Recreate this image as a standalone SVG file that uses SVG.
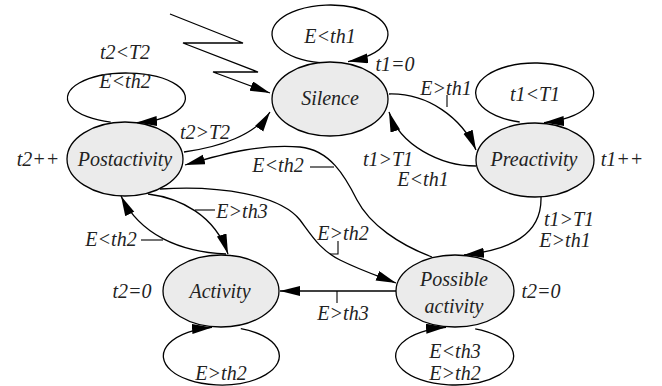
<svg xmlns="http://www.w3.org/2000/svg" width="662" height="386" viewBox="0 0 662 386">
<style>
.n{fill:#ebebeb;stroke:#000;stroke-width:1.3}
.e{fill:none;stroke:#000;stroke-width:1.3}
.l{fill:none;stroke:#000;stroke-width:1.1}
.t{font-family:'Liberation Serif','DejaVu Serif','Times New Roman',Times,serif;font-style:italic;font-size:20px;fill:#222;text-anchor:middle}
</style>
<defs>
<marker id="ah" markerUnits="userSpaceOnUse" markerWidth="21" markerHeight="11" refX="20" refY="5" orient="auto">
<path d="M0,0 L20,5 L0,10 z" fill="#000"/>
</marker>
</defs>
<rect width="662" height="386" fill="#fff"/>
<g id="nodes" class="t">
<g id="silence"><ellipse class="n" cx="330" cy="99" rx="58" ry="37"/><text x="330" y="105">Silence</text></g>
<g id="postactivity"><ellipse class="n" cx="125" cy="159" rx="58" ry="37"/><text x="125" y="166">Postactivity</text></g>
<g id="preactivity"><ellipse class="n" cx="535" cy="160" rx="59" ry="37"/><text x="534" y="166">Preactivity</text></g>
<g id="activity"><ellipse class="n" cx="221" cy="291" rx="58" ry="36"/><text x="220" y="298">Activity</text></g>
<g id="possible"><ellipse class="n" cx="455" cy="291" rx="59" ry="36"/><text x="454" y="286">Possible</text><text x="454" y="313">activity</text></g>
</g>
<g id="connectors">
<path class="e" marker-end="url(#ah)" d="M319.9,62.6 A58,29 0 1 1 348,61.6"/>
<path class="e" marker-end="url(#ah)" d="M110.7,122.1 A59,25 0 1 1 137,122.6"/>
<path class="e" marker-end="url(#ah)" d="M519.7,122 A59,30 0 1 1 544,122.6"/>
<path class="e" marker-end="url(#ah)" d="M240.8,328.7 A58,29 0 1 1 212,327.4"/>
<path class="e" marker-end="url(#ah)" d="M475.2,328.8 A59,29 0 1 1 446,327.3"/>
<polyline class="e" marker-end="url(#ah)" points="170,14 243,43 183,43 258,72 213,72 270,93"/>
<path class="e" marker-end="url(#ah)" d="M389,94 C428,93 462,118 476,150"/>
<path class="e" marker-end="url(#ah)" d="M476,166 C440,166 400,145 389,112"/>
<path class="e" marker-end="url(#ah)" d="M184,152 C220,147 255,135 270,112"/>
<path class="e" marker-end="url(#ah)" d="M432,257 C400,245 370,225 357,200 C345,176 330,150 300,147 C262,144 230,152 185,165"/>
<path class="e" marker-end="url(#ah)" d="M160,189 C220,185 280,195 300,220 C312,236 320,250 340,260 C360,270 378,276 396,283"/>
<path class="e" marker-end="url(#ah)" d="M148,194 C180,198 215,215 228,254"/>
<path class="e" marker-end="url(#ah)" d="M226,254 C180,252 140,235 121,196"/>
<path class="e" marker-end="url(#ah)" d="M541,197 C542,235 510,250 464,255"/>
<path class="e" marker-end="url(#ah)" d="M396,291 L280,291"/>
<path class="l" d="M447,95 L447,107"/>
<path class="l" d="M310,167 L334,167"/>
<path class="l" d="M338,241 L338,254 L330,254"/>
<path class="l" d="M195,210 L215,210"/>
<path class="l" d="M141,240 L163,240"/>
<path class="l" d="M337,291 L337,303"/>
</g>
<g id="labels" class="t">
<text x="330" y="43">E&lt;th1</text>
<text x="395" y="71">t1=0</text>
<text x="125" y="59">t2&lt;T2</text>
<text x="125" y="88">E&lt;th2</text>
<text x="535" y="101">t1&lt;T1</text>
<text x="38" y="166">t2++</text>
<text x="622" y="166">t1++</text>
<text x="205" y="139">t2&gt;T2</text>
<text x="446" y="95">E&gt;th1</text>
<text x="388" y="166">t1&gt;T1</text>
<text x="423" y="186">E&lt;th1</text>
<text x="278" y="172">E&lt;th2</text>
<text x="242" y="218">E&gt;th3</text>
<text x="111" y="246">E&lt;th2</text>
<text x="343" y="240">E&gt;th2</text>
<text x="343" y="320">E&gt;th3</text>
<text x="569" y="226">t1&gt;T1</text>
<text x="565" y="247">E&gt;th1</text>
<text x="132" y="298">t2=0</text>
<text x="541" y="298">t2=0</text>
<text x="221" y="380">E&gt;th2</text>
<text x="455" y="358">E&lt;th3</text>
<text x="455" y="380">E&gt;th2</text>
</g>
</svg>
